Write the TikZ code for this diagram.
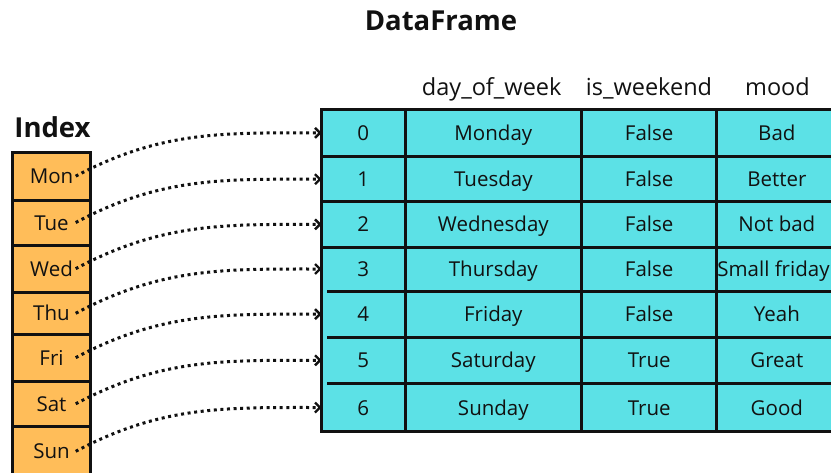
\documentclass[tikz,border=0pt]{standalone}
\usepackage{fontspec}
\setmainfont{Open Sans}
\usetikzlibrary{arrows.meta}
\definecolor{cyanfill}{HTML}{5CE1E6}
\definecolor{orangefill}{HTML}{FFBD59}
\definecolor{ink}{HTML}{111111}
\begin{document}
\begin{tikzpicture}[x=1pt,y=-1pt,
  celltext/.style={font=\fontsize{20.5}{24}\selectfont, text=ink, inner sep=0pt, outer sep=0pt,
    text height=15pt, text depth=0pt},
  colhead/.style={font=\fontsize{23.5}{28}\selectfont, text=ink, inner sep=0pt, anchor=base},
  bigtitle/.style={font=\bfseries\fontsize{27.5}{32}\selectfont, text=ink, inner sep=0pt, anchor=base},
  idxcell/.style={celltext, draw=ink, line width=3pt, fill=orangefill, minimum width=78.4pt},
  gridline/.style={draw=ink, line width=3pt},
  link/.style={draw=ink, line width=3pt, dash pattern=on 3pt off 3.6pt,
    -{Straight Barb[length=5pt,width=10pt,line width=2.4pt]}}
]
\useasboundingbox (0,0) rectangle (831,472);
\clip (0,0) rectangle (831,472);

% titles
\node[bigtitle] (title) at (441,30) {DataFrame};
\node[bigtitle] (idxtitle) at (52.5,137.7) {Index};

% column headers
\node[colhead] (hday) at (491.7,95) {day\_of\_week};
\node[colhead] (hwe) at (649,95) {is\_weekend};
\node[colhead] (hmood) at (777.5,95) {mood};

% index column
\foreach \n/\t/\a/\b in {mon/Mon/152.3/200, tue/Tue/200/245, wed/Wed/245/292.3,
    thu/Thu/292.3/334.3, fri/Fri/334.3/381, sat/Sat/381/426.7, sun/Sun/426.7/476}
  \node[idxcell, minimum height={\b-\a}] (\n) at (51.5,{(\a+\b)/2}) {\t};

% table body and grid
\path[gridline, fill=cyanfill] (321.7,109) rectangle (837,431.7);
\foreach \x in {405,581.7,716.7}
  \draw[gridline] (\x,109) -- (\x,431.7);
\foreach \y in {156.7,201.7,247}
  \draw[gridline] (321.7,\y) -- (837,\y);
\foreach \y in {291,337.3,383.3}
  \draw[gridline] (327,\y) -- (837,\y);

% table cells
\foreach \r/\y/\h/\dn/\we/\md/\mx in {
    0/132.85/47.7/Monday/False/Bad/776.85,
    1/179.2/45/Tuesday/False/Better/776.85,
    2/224.35/45.3/Wednesday/False/Not bad/776.85,
    3/269/44/Thursday/False/Small friday/773.5,
    4/314.15/46.3/Friday/False/Yeah/776.85,
    5/360.3/46/Saturday/True/Great/776.85,
    6/407.5/48.4/Sunday/True/Good/776.85}{
  \node[celltext, minimum width=83.3pt, minimum height=\h] (r\r) at (363.35,\y) {\r};
  \node[celltext, minimum width=176.7pt, minimum height=\h] (d\r) at (493.35,\y) {\dn};
  \node[celltext, minimum width=135pt, minimum height=\h] (w\r) at (649.2,\y) {\we};
  \node[celltext, minimum height=\h] (m\r) at (\mx,\y) {\md};
}

% links from index labels to row positions
\foreach \n/\r in {mon/0, tue/1, wed/2, thu/3, fri/4, sat/5, sun/6}
  \draw[link] ([xshift=-15pt]\n.east) to[out=28,in=180] (r\r.west);
\end{tikzpicture}
\end{document}
